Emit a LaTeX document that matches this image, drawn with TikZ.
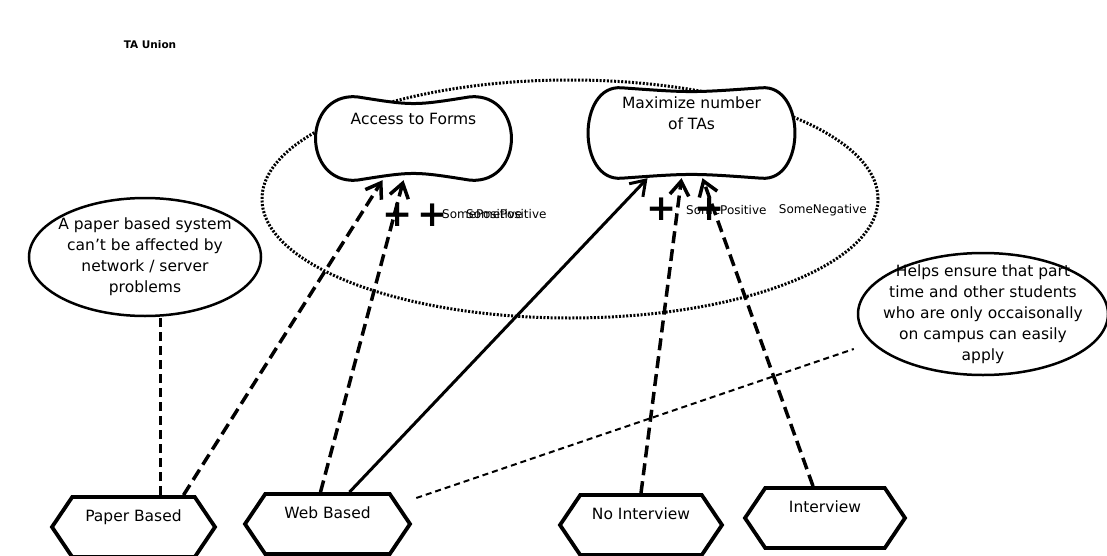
\documentclass[tikz,border=0pt]{standalone}
\usepackage{fontspec}
\setmainfont{DejaVu Sans}
\usepackage{tikz}
\usetikzlibrary{positioning, arrows.meta, calc, shapes.geometric, shapes.symbols}

% outline of a softgoal round a named node: #2 sag of top/bottom, #3 corner inset
\newcommand{\softgoalline}[3]{%
  \draw[goalline] ([xshift=#3]#1.north west) .. controls ([yshift=-#2]#1.north) .. ([xshift=-#3]#1.north east)
    .. controls ([xshift=15pt,yshift=4pt]#1.north east) and ([xshift=15pt,yshift=-4pt]#1.south east) .. ([xshift=-#3]#1.south east)
    .. controls ([yshift=#2]#1.south) .. ([xshift=#3]#1.south west)
    .. controls ([xshift=-15pt,yshift=-4pt]#1.south west) and ([xshift=-15pt,yshift=4pt]#1.north west) .. cycle;}

\begin{document}
\begin{tikzpicture}[
        x=1pt, y=-1pt,
        txt/.style={font=\fontsize{15.5}{21}\selectfont},
        goal/.style={rectangle, inner sep=0pt},
        goaltext/.style={txt, anchor=north, align=center, inner sep=0pt},
        goalline/.style={line width=3pt, fill=white},
        belief/.style={txt, ellipse, draw, line width=2.5pt, align=center},
        task/.style={txt, signal, signal to=east and west, signal pointer angle=112, draw, line width=3.8pt, minimum height=60pt, text depth=22pt},
        boundary/.style={ellipse, draw, line width=3pt, dash pattern=on 2pt off 1.6pt},
        contrib/.style={line width=3.5pt, dash pattern=on 12pt off 6pt, -{Straight Barb[length=14pt, width=19pt]}},
        solidcontrib/.style={line width=3pt, -{Straight Barb[length=14pt, width=19pt]}},
        beliefline/.style={line width=2.5pt, dash pattern=on 9pt off 5pt},
        noteline/.style={line width=2pt, dash pattern=on 6pt off 4pt},
        plus/.style={font=\fontsize{36}{36}\selectfont\bfseries, inner sep=0pt},
        lbl/.style={font=\fontsize{12}{14}\selectfont, inner sep=0pt}
    ]

    \path[fill=white] (0,0) rectangle (1107,556);
    \useasboundingbox (0,0) rectangle (1107,556);

    % actor boundary
    \node[boundary, minimum width=616pt, minimum height=238pt] (taunion) at (570,199) {};
    \node[font=\fontsize{10.5}{12}\selectfont\bfseries] (taname) at (150,45) {TA Union};

    % softgoals
    \node[goal, minimum width=193pt, minimum height=83pt] (access) at (413.5,138.5) {};
    \softgoalline{access}{9pt}{40pt}
    \node[goaltext, yshift=-16pt] (accesstext) at (access.north) {Access to Forms};
    \node[goal, minimum width=199pt, minimum height=90pt] (maxtas) at (691.5,133) {};
    \softgoalline{maxtas}{5pt}{30pt}
    \node[goaltext, yshift=-9pt] (maxtastext) at (maxtas.north) {Maximize number\\of TAs};

    % beliefs
    \node[belief, minimum width=232pt, minimum height=118pt, inner xsep=-8pt, inner ysep=0pt] (pbelief) at (145,257)
        {A paper based system\\can't be affected by\\network / server\\problems};
    \node[belief, minimum width=250pt, minimum height=122pt, inner xsep=-15pt, inner ysep=-10pt] (helps) at (983,314)
        {Helps ensure that part\\time and other students\\who are only occaisonally\\on campus can easily\\apply};

    % tasks
    \node[task, minimum width=163pt] (paper) at (133.5,527) {Paper Based};
    \node[task, minimum width=165pt] (web) at (327.5,524) {Web Based};
    \node[task, minimum width=162pt] (noint) at (641,525) {No Interview};
    \node[task, minimum width=160pt] (interview) at (825,518) {Interview};

    % links
    \draw[beliefline] ([xshift=27pt]paper.north) -- ([xshift=27pt]paper.north |- pbelief.south);
    \draw[contrib] ([xshift=50pt]paper.north) -- ([xshift=-31pt]access.south);
    \draw[contrib] ([xshift=-7pt]web.north) -- ([xshift=-10pt]access.south);
    \draw[solidcontrib] ([xshift=22pt]web.north) -- ([xshift=-44pt]maxtas.south);
    \draw[contrib] (noint.north) -- ([xshift=-10pt]maxtas.south);
    \draw[contrib] ([xshift=-12pt]interview.north) -- ([xshift=11pt]maxtas.south);
    \draw[noteline] ([shift={(4,-26)}]web.east) -- ([shift={(-3,35)}]helps.west);

    % contribution labels
    \node[lbl, anchor=west] (poslbl1) at (442,214) {SomePositive};
    \node[lbl, anchor=west] (poslbl2) at (466,214) {SomePositive};
    \node[plus] (plus1) at (398,215) {+};
    \node[plus] (plus2) at (433,215) {+};
    \node[lbl, anchor=west] (poslbl3) at (686,210) {SomePositive};
    \node[lbl, anchor=east] (neglbl) at (867,210) {SomeNegative};
    \node[plus] (plus3) at (662,209) {+};
    \node[plus] (plus4) at (710,209) {+};

\end{tikzpicture}
\end{document}
